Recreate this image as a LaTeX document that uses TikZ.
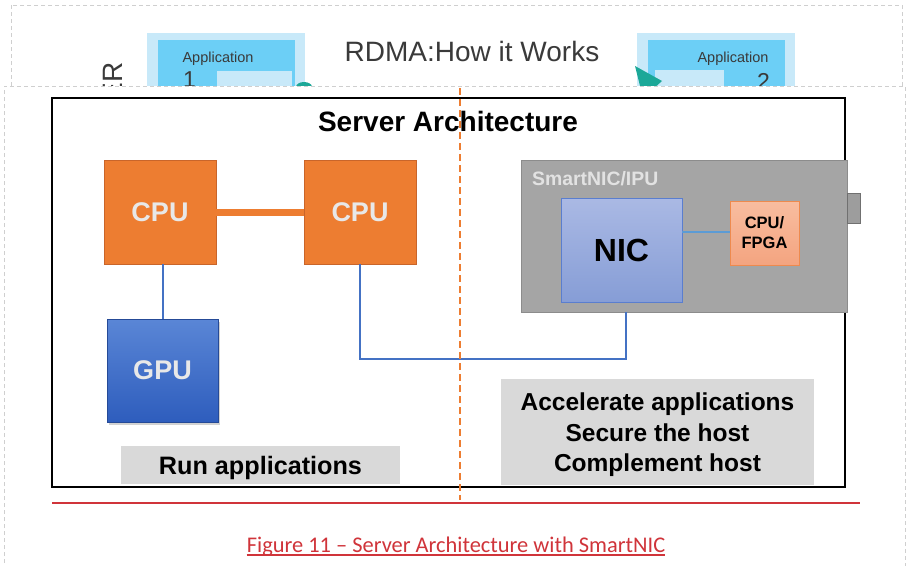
\documentclass[tikz,border=0pt]{standalone}
\usepackage{fontspec}
\setmainfont{Liberation Sans}
\newfontfamily\capfont{Carlito}
\usetikzlibrary{shadows}

\definecolor{cpuOrange}{HTML}{ED7D31}
\definecolor{cpuEdge}{HTML}{C9652A}
\definecolor{paleText}{HTML}{E8E8E8}
\definecolor{gpuTop}{HTML}{5A86D6}
\definecolor{gpuBot}{HTML}{2E5DBD}
\definecolor{linkBlue}{HTML}{4472C4}
\definecolor{nicLink}{HTML}{5B9BD5}
\definecolor{snicFill}{HTML}{A5A5A5}
\definecolor{snicEdge}{HTML}{8C8C8C}
\definecolor{snicLabel}{HTML}{E2E2E2}
\definecolor{nicTop}{HTML}{AAB9E4}
\definecolor{nicBot}{HTML}{869DD6}
\definecolor{nicEdge}{HTML}{5A7ECF}
\definecolor{fpgaTop}{HTML}{F8BDA0}
\definecolor{fpgaBot}{HTML}{F4A480}
\definecolor{fpgaEdge}{HTML}{EE8A4E}
\definecolor{noteGray}{HTML}{D9D9D9}
\definecolor{capRed}{HTML}{D0343A}
\definecolor{borderGray}{HTML}{CFCFCF}
\definecolor{appOuter}{HTML}{C8E9F9}
\definecolor{appInner}{HTML}{6CCFF6}
\definecolor{appText}{HTML}{3A3A3A}
\definecolor{teal}{HTML}{1BA898}

\begin{document}
\begin{tikzpicture}[x=1pt,y=-1pt,
  blk/.style={inner sep=0pt, outer sep=0pt, anchor=north west},
  cpubox/.style={blk, fill=cpuOrange, draw=cpuEdge, line width=0.8pt,
    minimum width=112pt, minimum height=104pt, text=paleText,
    font=\fontsize{27}{30}\selectfont\bfseries},
  notebox/.style={blk, fill=noteGray},
  notetext/.style={inner sep=0pt, align=center, yshift=-3pt,
    font=\fontsize{24.5}{30.5}\selectfont\bfseries},
  link/.style={linkBlue, line width=2pt},
  pagebox/.style={borderGray, line width=0.9pt, dash pattern=on 4pt off 3pt},
  apptext/.style={inner sep=0pt, text=appText}
]
\useasboundingbox (0,0) rectangle (907,565);
\fill[white] (0,0) rectangle (907,565);

% ---- upper slide: RDMA overview (partly covered) ----
\draw[pagebox] (11,5) rectangle (902,90);
\fill[appOuter] (147,33) rectangle (305,90);
\fill[appInner] (158,40) rectangle (295,90);
\fill[appOuter] (217,71) rectangle (292,90);
\fill[teal] (304,87) ellipse [x radius=8pt, y radius=5pt];
\node[apptext, anchor=base, font=\fontsize{14.5}{16}\selectfont] (app1) at (218,62) {Application};
\node[apptext, anchor=base west, font=\fontsize{23}{25}\selectfont] (num1) at (183,87) {1};

\fill[appOuter] (637,33) rectangle (795,90);
\fill[appInner] (648,40) rectangle (785,90);
\fill[appOuter] (655,70) rectangle (724,90);
\fill[teal] (635,66) -- (662,81) -- (652,90) -- (641,90) -- cycle;
\node[apptext, anchor=base, font=\fontsize{14.5}{16}\selectfont] (app2) at (733,62) {Application};
\node[apptext, anchor=base east, font=\fontsize{23}{25}\selectfont] (num2) at (770,89) {2};

\node[apptext, anchor=center, font=\fontsize{28}{30}\selectfont] (rdma) at (472,51) {RDMA:How it Works};
\node[apptext, rotate=90, anchor=base east, font=\fontsize{28}{30}\selectfont] (side) at (122,62) {ER};

% ---- lower slide: server architecture ----
\fill[white] (4,86) rectangle (907,570);
\draw[pagebox] (4,570) -- (4,86) -- (905,86) -- (905,570);

\draw[black, line width=1.7pt] (52,98) rectangle (845,487);

\node[inner sep=0pt, font=\fontsize{28}{30}\selectfont\bfseries] (title) at (448,121) {Server Architecture};

\node[cpubox] (cpu1) at (104,160) {CPU};
\node[cpubox] (cpu2) at (304,160) {CPU};
\draw[cpuOrange, line width=7pt] (cpu1.east) -- (cpu2.west);

\node[blk, top color=gpuTop, bottom color=gpuBot, draw=gpuBot!80!black, line width=0.3pt,
  minimum width=111pt, minimum height=103pt, text=paleText,
  font=\fontsize{27}{30}\selectfont\bfseries,
  drop shadow={shadow xshift=1.5pt, shadow yshift=-2.5pt, opacity=0.35}] (gpu) at (107,319) {GPU};
\draw[link] (cpu1.south -| gpu.north) -- (gpu.north);

% SmartNIC card
\node[blk, fill=snicFill, draw=snicEdge, line width=1pt,
  minimum width=326pt, minimum height=152pt] (snic) at (521,160) {};
\node[blk, fill=snicFill!95!black, draw=snicEdge!80!black, line width=0.8pt,
  minimum width=13pt, minimum height=30pt] (tab) at (847,193) {};
\node[inner sep=0pt, anchor=base west, text=snicLabel,
  font=\fontsize{19.4}{21}\selectfont\bfseries] (snlabel) at (532,185) {SmartNIC/IPU};
\node[blk, top color=nicTop, bottom color=nicBot, draw=nicEdge, line width=0.9pt,
  minimum width=121pt, minimum height=104pt,
  font=\fontsize{32}{34}\selectfont\bfseries] (nic) at (561,198) {NIC};
\node[blk, top color=fpgaTop, bottom color=fpgaBot, draw=fpgaEdge, line width=0.9pt,
  minimum width=69pt, minimum height=64pt, align=center,
  font=\fontsize{16.5}{20}\selectfont\bfseries] (fpga) at (730,201) {CPU/\\FPGA};
\draw[nicLink, line width=1.6pt] (nic.east |- 0,232) -- (fpga.west |- 0,232);

\coordinate (bend) at (626,359);
\draw[link] (cpu2.south) |- (bend) -- (bend |- snic.south);

% role notes
\node[notebox, minimum width=279pt, minimum height=38pt] (runapp) at (121,446) {};
\node[notetext, font=\fontsize{25.2}{30}\selectfont\bfseries] (runtext) at (runapp.center) {Run applications};
\node[notebox, minimum width=313pt, minimum height=106pt] (roles) at (501,379) {};
\node[notetext] (roletext) at (roles.center) {Accelerate applications\\Secure the host\\Complement host};

% host / card divider
\coordinate (divtop) at (460,88);
\coordinate (divbot) at (460,500);
\draw[cpuOrange, line width=1.3pt, dash pattern=on 7pt off 4pt] (divtop) -- (divbot);

% caption
\coordinate (ruleL) at (52,503);
\coordinate (ruleR) at (860,503);
\draw[capRed, line width=1.6pt] (ruleL) -- (ruleR);
\node[inner sep=0pt, anchor=base, text=capRed, font=\capfont\fontsize{22.4}{25}\selectfont] (cap) at (456,552)
  {Figure 11 – Server Architecture with SmartNIC};
\draw[capRed, line width=1.2pt] ([yshift=-3pt]cap.base west) -- ([yshift=-3pt]cap.base east);
\end{tikzpicture}
\end{document}
